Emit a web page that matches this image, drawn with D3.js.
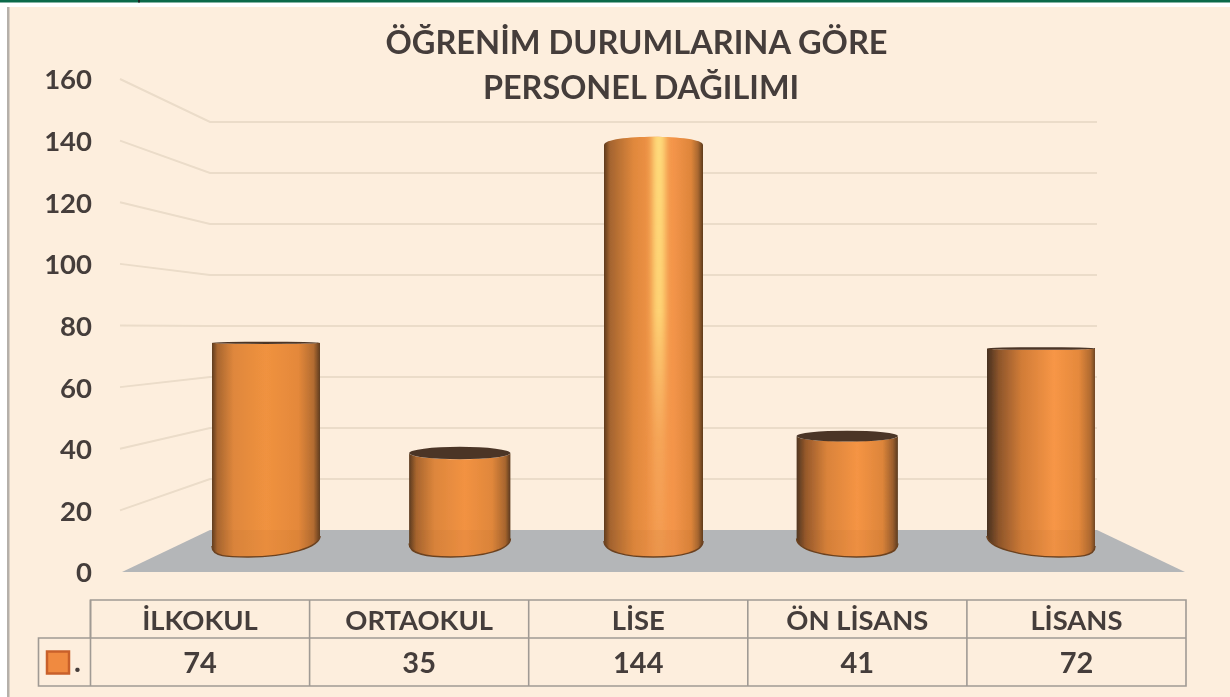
<!DOCTYPE html>
<html>
<head>
<meta charset="utf-8">
<script src="https://cdn.jsdelivr.net/npm/d3@7"></script>
<style>
  html, body { margin: 0; padding: 0; background: #fff; }
  svg { display: block; }
  text { font-family: Lato, "Open Sans", sans-serif; font-weight: 700; fill: #453e3b; }
</style>
</head>
<body>
<script>
// chart values
var categories = ["İLKOKUL", "ORTAOKUL", "LİSE", "ÖN LİSANS", "LİSANS"];
var values = [74, 35, 144, 41, 72];
var yTicks = [0, 20, 40, 60, 80, 100, 120, 140, 160];
var titleLines = ["ÖĞRENİM DURUMLARINA GÖRE", "PERSONEL DAĞILIMI"];
var seriesName = ".";

var width = 1230;
var height = 697;

var svg = d3.select("body").append("svg")
  .attr("width", width)
  .attr("height", height);

var defs = svg.append("defs");

defs.append("filter").attr("id", "soft")
  .append("feGaussianBlur").attr("stdDeviation", 0.6);

defs.append("filter").attr("id", "glow")
  .attr("x", "-100%").attr("width", "300%")
  .append("feGaussianBlur").attr("stdDeviation", "3 0");

// highlight on the tall cylinder, strong at the top and gone lower down
var glowGrad = defs.append("linearGradient").attr("id", "glowGrad")
  .attr("x1", 0).attr("x2", 0).attr("y1", 0).attr("y2", 1);
glowGrad.append("stop").attr("offset", 0).attr("stop-color", "#ffdc7c").attr("stop-opacity", 1);
glowGrad.append("stop").attr("offset", 0.42).attr("stop-color", "#ffd878").attr("stop-opacity", 0.95);
glowGrad.append("stop").attr("offset", 0.72).attr("stop-color", "#ffc878").attr("stop-opacity", 0.35);
glowGrad.append("stop").attr("offset", 1).attr("stop-color", "#ffb870").attr("stop-opacity", 0.2);

// page furniture
svg.append("rect").attr("x", 0).attr("y", 0).attr("width", width).attr("height", 2.5).attr("fill", "#0b6a4a");
svg.append("rect").attr("x", 138).attr("y", 0).attr("width", 2).attr("height", 2.5).attr("fill", "#222");
svg.append("rect").attr("x", 7).attr("y", 7).attr("width", width - 7).attr("height", height - 7).attr("fill", "#fdeedd");
svg.append("rect").attr("x", 7).attr("y", 7).attr("width", 2.5).attr("height", height - 7).attr("fill", "#b5b0aa");

// scales: front edge of the left wall, back wall, and the bars in the middle of the floor
var yFront = d3.scaleLinear().domain([0, 160]).range([572, 79]);
var yBack = d3.scaleLinear().domain([0, 160]).range([530, 122]);
var yBar = d3.scaleLinear().domain([0, 144]).range([552, 145]);
var xBar = d3.scalePoint().domain(categories).range([266, 1041]);
var xTable = d3.scaleBand().domain(categories).range([90.5, 1186]);

var backLeft = 210, backRight = 1097, frontLeft = 120, floorLeft = 122, floorRight = 1185;

// wall grid
var grid = svg.append("g").attr("filter", "url(#soft)");
yTicks.slice(1).forEach(function(t) {
  grid.append("path")
    .attr("fill", "none")
    .attr("stroke", "#ebdcc9")
    .attr("stroke-width", 2)
    .attr("d", "M" + frontLeft + "," + yFront(t) + "L" + backLeft + "," + yBack(t) + "L" + backRight + "," + yBack(t));
});

// floor
svg.append("path")
  .attr("fill", "#b4b6b8")
  .attr("filter", "url(#soft)")
  .attr("d", "M" + floorLeft + "," + yFront(0) + "L" + floorRight + "," + yFront(0) + "L" + backRight + "," + yBack(0) + "L" + backLeft + "," + yBack(0) + "Z");

// y axis
var yAxis = svg.append("g")
  .attr("transform", "translate(92,0)")
  .call(d3.axisLeft(yFront).tickValues(yTicks).tickSize(0).tickPadding(0));
yAxis.select(".domain").remove();
yAxis.selectAll("text").style("font-size", "27.5px").attr("dy", "0.36em");

// title
svg.append("text").attr("x", 636.5).attr("y", 54).attr("text-anchor", "middle")
  .style("font-size", "32.6px").text(titleLines[0]);
svg.append("text").attr("x", 641).attr("y", 99).attr("text-anchor", "middle")
  .style("font-size", "32.4px").text(titleLines[1]);

// shading of each cylinder, offset / colour pairs
var shades = [
  [[0, "#5e3b1e"], [0.05, "#a8662f"], [0.2, "#df873c"], [0.5, "#f0923f"], [0.8, "#e4883a"], [0.94, "#b36c31"], [1, "#5f3c1f"]],
  [[0, "#5a3a20"], [0.07, "#a8652e"], [0.25, "#dd863c"], [0.55, "#f29242"], [0.82, "#e0873b"], [0.95, "#a8652e"], [1, "#5a3a20"]],
  [[0, "#5e3a1c"], [0.06, "#a4642f"], [0.3, "#e0883c"], [0.46, "#ee9246"], [0.7, "#f4954a"], [0.88, "#de853a"], [0.95, "#a96830"], [1, "#5e3a1c"]],
  [[0, "#4f3520"], [0.09, "#97592b"], [0.3, "#da833a"], [0.6, "#f59444"], [0.85, "#dd853a"], [0.95, "#9c5f2d"], [1, "#5a3a20"]],
  [[0, "#46301f"], [0.11, "#8d552b"], [0.32, "#d17c37"], [0.62, "#f79646"], [0.85, "#e5893c"], [0.96, "#b06a30"], [1, "#704624"]]
];

function barWidth(t) {
  return 99 + 9 * t * t;
}

// how much of the top ellipse shows, from the height of the eye
function topRadius(y) {
  return Math.abs(y - 320) * 0.047;
}

var bars = svg.append("g").attr("filter", "url(#soft)");

categories.forEach(function(cat, i) {
  var cx = xBar(cat);
  var t = (cx - xBar(categories[2])) / (xBar(categories[4]) - xBar(categories[2]));
  var w = barWidth(t);
  var xl = cx - w / 2;
  var xr = cx + w / 2;
  var yt = yBar(values[i]);
  var ry = topRadius(yt);
  var yl = 541 - 5 * t;
  var yr = 541 + 5 * t;
  var xb = cx + 18 * t;
  var yb = 557;

  var grad = defs.append("linearGradient").attr("id", "bar" + i)
    .attr("x1", 0).attr("x2", 1).attr("y1", 0).attr("y2", 0);
  shades[i].forEach(function(s) {
    grad.append("stop").attr("offset", s[0]).attr("stop-color", s[1]);
  });

  // the arc of the rim bends up above the eye and down below it
  var bulge = yt < 320 ? -ry * 1.33 : ry * 1.33;
  var foot = "C" + xr + "," + (yr + 11) + " " + (xb + (xr - xb) * 0.55) + "," + yb + " " + xb + "," + yb
    + "C" + (xb - (xb - xl) * 0.55) + "," + yb + " " + xl + "," + (yl + 11) + " " + xl + "," + yl;
  var body = "M" + xl + "," + yt
    + "C" + xl + "," + (yt + bulge) + " " + xr + "," + (yt + bulge) + " " + xr + "," + yt
    + "L" + xr + "," + yr + foot + "Z";

  bars.append("path").attr("d", body).attr("fill", "url(#bar" + i + ")");

  defs.append("clipPath").attr("id", "clip" + i).append("path").attr("d", body);

  if (values[i] == d3.max(values)) {
    bars.append("g").attr("clip-path", "url(#clip" + i + ")")
      .append("rect")
      .attr("x", cx - 1).attr("y", yt - 10).attr("width", 13).attr("height", yb - yt + 10)
      .attr("fill", "url(#glowGrad)")
      .attr("filter", "url(#glow)");
  }

  // outline of the bottom rim
  bars.append("path")
    .attr("fill", "none")
    .attr("stroke", "#6b4220")
    .attr("stroke-width", 1.5)
    .attr("d", "M" + xr + "," + yr + foot);

  // the floor shows faintly through the foot of the bar
  bars.append("rect")
    .attr("x", xl).attr("y", yBack(0)).attr("width", w).attr("height", yb - yBack(0) + 1)
    .attr("fill", "#8a5a30").attr("opacity", 0.07)
    .attr("clip-path", "url(#clip" + i + ")");

  if (yt > 320) {
    bars.append("ellipse")
      .attr("cx", cx).attr("cy", yt).attr("rx", w / 2).attr("ry", ry)
      .attr("fill", "#4b3527");
  } else if (i != 2) {
    bars.append("path")
      .attr("fill", "none").attr("stroke", "#5a3c22").attr("stroke-width", 1.5)
      .attr("d", "M" + xl + "," + yt + "C" + xl + "," + (yt + bulge) + " " + xr + "," + (yt + bulge) + " " + xr + "," + yt);
  }
});

// data table
var tableTop = 600, tableMid = 638, tableBottom = 686, legendLeft = 38.5;
var table = svg.append("g")
  .attr("fill", "none")
  .attr("stroke", "#a09a94")
  .attr("stroke-width", 1.6);

table.append("path").attr("d",
  "M" + xTable.range()[0] + "," + tableMid + "V" + tableTop + "H" + xTable.range()[1] + "V" + tableBottom
  + "H" + legendLeft + "V" + tableMid + "H" + xTable.range()[1]);

categories.forEach(function(cat) {
  table.append("line")
    .attr("x1", xTable(cat)).attr("x2", xTable(cat))
    .attr("y1", tableTop).attr("y2", tableBottom);

  svg.append("text").attr("x", xTable(cat) + xTable.bandwidth() / 2).attr("y", 629.5)
    .attr("text-anchor", "middle").style("font-size", "27.4px").text(cat);
});

values.forEach(function(v, i) {
  svg.append("text").attr("x", xTable(categories[i]) + xTable.bandwidth() / 2).attr("y", 672.5)
    .attr("text-anchor", "middle").style("font-size", "29px").text(v);
});

// legend key
svg.append("rect").attr("x", 47).attr("y", 651.5).attr("width", 22).attr("height", 22)
  .attr("fill", "#f08a40").attr("stroke", "#c9602a").attr("stroke-width", 2.5);
svg.append("text").attr("x", 74).attr("y", 672).style("font-size", "29px").text(seriesName);

// the reference is a soft photo, so the type gets the same slight blur
svg.selectAll("text").attr("filter", "url(#soft)");
</script>
</body>
</html>
